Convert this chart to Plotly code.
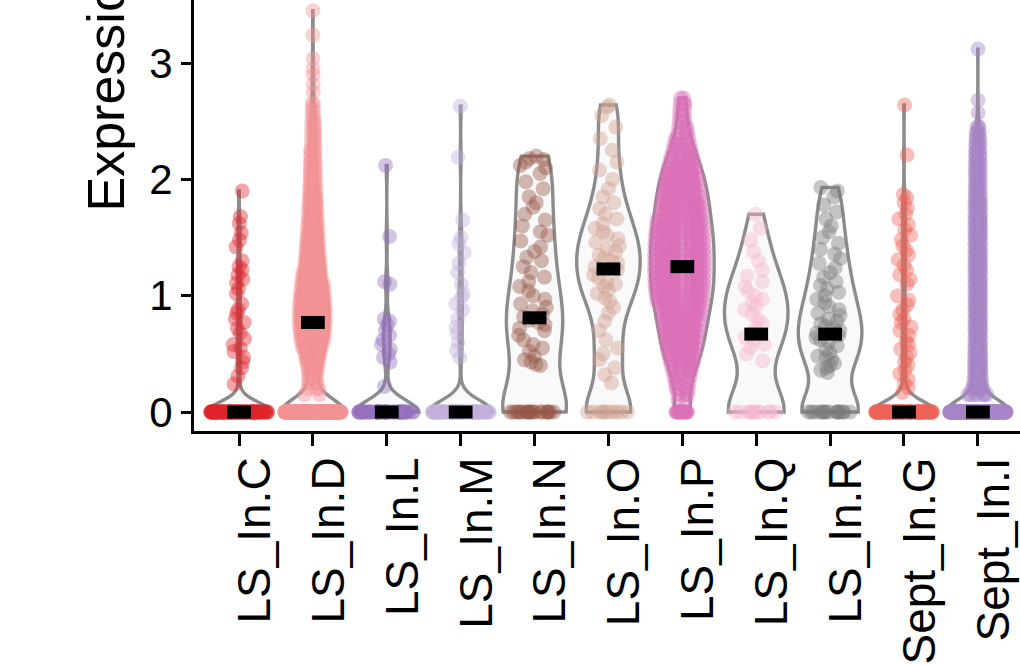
import numpy as np
import plotly.graph_objects as go

# ---------------- data ----------------
categories = ["LS_In.C", "LS_In.D", "LS_In.L", "LS_In.M", "LS_In.N", "LS_In.O",
              "LS_In.P", "LS_In.Q", "LS_In.R", "Sept_In.G", "Sept_In.I"]

# sparse groups: number of zero cells + individual non-zero cell values
C_zeros = 100
C_vals = [0.24, 0.31, 0.38, 0.43, 0.47, 0.52, 0.55, 0.58, 0.63, 0.68, 0.72, 0.77, 0.80,
          0.85, 0.88, 0.93, 1.02, 1.06, 1.11, 1.14, 1.18, 1.22, 1.25, 1.30, 1.42, 1.48,
          1.54, 1.62, 1.68, 1.90]
L_zeros = 60
L_vals = [0.22, 0.43, 0.47, 0.50, 0.54, 0.58, 0.62, 0.66, 0.70, 0.75, 0.78, 0.80, 1.10,
          1.12, 1.51, 2.12]
M_zeros = 80
M_vals = [0.47, 0.53, 0.60, 0.68, 0.73, 0.80, 0.88, 0.93, 0.99, 1.02, 1.10, 1.20, 1.28,
          1.37, 1.45, 1.50, 1.65, 2.19, 2.63]
N_zeros = 20
N_vals = [0.40, 0.41, 0.43, 0.45, 0.48, 0.52, 0.55, 0.58, 0.62, 0.66, 0.70, 0.72, 0.75,
          0.77, 0.79, 0.82, 0.84, 0.87, 0.90, 0.93, 0.97, 1.00, 1.04, 1.08, 1.12, 1.16,
          1.20, 1.25, 1.30, 1.33, 1.38, 1.42, 1.47, 1.52, 1.55, 1.60, 1.65, 1.70, 1.76,
          1.80, 1.85, 1.92, 1.98, 2.05, 2.10, 2.12, 2.15, 2.17, 2.18, 2.20]
O_zeros = 10
O_vals = [0.25, 0.32, 0.38, 0.45, 0.50, 0.55, 0.62, 0.70, 0.78, 0.85, 0.90, 0.95, 0.98,
          1.02, 1.05, 1.08, 1.10, 1.12, 1.15, 1.18, 1.22, 1.25, 1.28, 1.30, 1.32, 1.35,
          1.38, 1.40, 1.43, 1.46, 1.49, 1.52, 1.55, 1.58, 1.62, 1.66, 1.70, 1.75, 1.80,
          1.85, 1.92, 2.00, 2.08, 2.15, 2.25, 2.35, 2.45, 2.55, 2.62, 2.64]
Q_zeros = 12
Q_vals = [0.44, 0.50, 0.55, 0.58, 0.61, 0.64, 0.68, 0.72, 0.76, 0.80, 0.84, 0.88, 0.91,
          0.94, 0.97, 1.00, 1.04, 1.08, 1.12, 1.17, 1.22, 1.30, 1.38, 1.48, 1.58, 1.70]
R_zeros = 16
R_vals = [0.34, 0.36, 0.38, 0.40, 0.42, 0.45, 0.47, 0.48, 0.51, 0.54, 0.57, 0.60, 0.62,
          0.64, 0.66, 0.68, 0.70, 0.72, 0.74, 0.76, 0.78, 0.80, 0.83, 0.85, 0.88, 0.91,
          0.94, 0.97, 1.00, 1.03, 1.06, 1.09, 1.12, 1.16, 1.20, 1.24, 1.28, 1.32, 1.36,
          1.40, 1.45, 1.50, 1.55, 1.60, 1.66, 1.72, 1.78, 1.85, 1.90, 1.93]
G_zeros = 120
G_vals = [0.17, 0.21, 0.25, 0.28, 0.33, 0.36, 0.40, 0.43, 0.47, 0.51, 0.54, 0.58, 0.61,
          0.66, 0.70, 0.73, 0.77, 0.80, 0.84, 0.88, 0.92, 0.96, 1.00, 1.10, 1.14, 1.18,
          1.22, 1.26, 1.31, 1.35, 1.39, 1.43, 1.48, 1.52, 1.57, 1.61, 1.66, 1.70, 1.75,
          1.80, 1.84, 1.87, 2.21, 2.64]

# dense groups: number of zero cells + expression level / number of cells
D_zeros = 210
D_levels = [0.15, 0.20, 0.25, 0.30, 0.35, 0.40, 0.45, 0.50, 0.55, 0.60,
            0.65, 0.70, 0.75, 0.80, 0.85, 0.90,
            0.95, 1.00, 1.05, 1.10, 1.15, 1.20, 1.25, 1.30, 1.35, 1.40,
            1.45, 1.50, 1.55, 1.60, 1.65, 1.70, 1.75, 1.80, 1.85, 1.90,
            1.95, 2.00, 2.05, 2.10, 2.15, 2.20, 2.25, 2.30, 2.35, 2.40,
            2.45, 2.50, 2.55, 2.60, 2.65,
            2.75, 2.82, 2.90, 2.95, 3.04, 3.24, 3.45]
D_counts = [2, 3, 4, 5, 7, 9, 11, 13, 15, 17,
            18, 19, 20, 20, 20, 19,
            19, 18, 17, 16, 15, 14, 13, 12, 12, 11,
            10, 10, 9, 8, 8, 7, 7, 6, 6, 5,
            5, 5, 4, 4, 4, 4, 4, 3, 3, 3,
            3, 3, 2, 2, 2,
            1, 1, 1, 1, 1, 1, 1]
P_zeros = 15
P_levels = [0.10, 0.15, 0.20, 0.25, 0.30, 0.35, 0.40, 0.45, 0.50, 0.55,
            0.60, 0.65, 0.70, 0.75, 0.80, 0.85, 0.90, 0.95, 1.00, 1.05,
            1.10, 1.15, 1.20, 1.25, 1.30, 1.35, 1.40, 1.45, 1.50, 1.55,
            1.60, 1.65, 1.70, 1.75, 1.80, 1.85, 1.90, 1.95, 2.00, 2.05,
            2.10, 2.15, 2.20, 2.25, 2.30, 2.35, 2.40, 2.45, 2.50, 2.55,
            2.60, 2.65, 2.70]
P_counts = [2, 3, 4, 4, 5, 6, 7, 8, 9, 10,
            10, 11, 11, 12, 12, 13, 13, 14, 14, 15,
            15, 15, 15, 15, 15, 15, 15, 15, 15, 14,
            14, 14, 13, 13, 13, 12, 12, 11, 11, 10,
            9, 8, 7, 6, 5, 4, 3, 3, 2, 2,
            2, 3, 2]
I_zeros = 230
I_levels = [0.15, 0.20, 0.25, 0.30, 0.35, 0.40, 0.45, 0.50, 0.55,
            0.60, 0.65, 0.70, 0.75, 0.80, 0.85, 0.90, 0.95, 1.00, 1.05,
            1.10, 1.15, 1.20, 1.25, 1.30, 1.35, 1.40, 1.45, 1.50, 1.55,
            1.60, 1.65, 1.70, 1.75, 1.80, 1.85, 1.90, 1.95, 2.00, 2.05,
            2.10, 2.15, 2.20, 2.25, 2.30, 2.35, 2.40, 2.45,
            2.57, 2.68, 3.12]
I_counts = [7, 7, 7, 7, 7, 7, 7, 6, 6,
            6, 6, 6, 6, 6, 6, 6, 6, 6, 6,
            6, 6, 6, 6, 6, 6, 6, 6, 6, 6,
            6, 6, 6, 6, 6, 5, 5, 5, 5, 5,
            5, 5, 5, 5, 4, 4, 4, 3,
            1, 1, 1]

medians = [0, 0.77, 0, 0, 0.81, 1.23, 1.25, 0.67, 0.67, 0, 0]
y_ticks = [0, 1, 2, 3]
y_title = "Expression"

# ---------------- styles ----------------
colors = {"LS_In.C": "#E0262A", "LS_In.D": "#F49496", "LS_In.L": "#9670BC",
          "LS_In.M": "#C3B1DC", "LS_In.N": "#975848", "LS_In.O": "#CFA090",
          "LS_In.P": "#DC70B8", "LS_In.Q": "#F5B5CF", "LS_In.R": "#7A7A7A",
          "Sept_In.G": "#EE6459", "Sept_In.I": "#A886C6"}
bandwidths = {"LS_In.C": 0.085, "LS_In.D": 0.11, "LS_In.L": 0.1, "LS_In.M": 0.1,
              "LS_In.N": 0.25, "LS_In.O": 0.18, "LS_In.P": 0.1, "LS_In.Q": 0.22,
              "LS_In.R": 0.18, "Sept_In.G": 0.09, "Sept_In.I": 0.1}
jitters = {"LS_In.C": 0.9, "LS_In.D": 0.9, "LS_In.L": 0.9, "LS_In.M": 0.9,
           "LS_In.N": 0.78, "LS_In.O": 0.78, "LS_In.P": 0.9, "LS_In.Q": 0.8,
           "LS_In.R": 0.8, "Sept_In.G": 0.9, "Sept_In.I": 0.9}
dense = {"LS_In.D", "LS_In.P", "Sept_In.I"}
VW = 0.86
OUTLINE = "#8c8c8c"
FILL = "#f9f9f9"
PT_SIZE = 15
PT_ALPHA = 0.42
FONT = "Liberation Sans, Arial, Helvetica, sans-serif"

groups = {
    "LS_In.C": (C_zeros, C_vals, [1] * len(C_vals)),
    "LS_In.D": (D_zeros, D_levels, D_counts),
    "LS_In.L": (L_zeros, L_vals, [1] * len(L_vals)),
    "LS_In.M": (M_zeros, M_vals, [1] * len(M_vals)),
    "LS_In.N": (N_zeros, N_vals, [1] * len(N_vals)),
    "LS_In.O": (O_zeros, O_vals, [1] * len(O_vals)),
    "LS_In.P": (P_zeros, P_levels, P_counts),
    "LS_In.Q": (Q_zeros, Q_vals, [1] * len(Q_vals)),
    "LS_In.R": (R_zeros, R_vals, [1] * len(R_vals)),
    "Sept_In.G": (G_zeros, G_vals, [1] * len(G_vals)),
    "Sept_In.I": (I_zeros, I_levels, I_counts),
}


def expand(z, lv, ct):
    return np.concatenate([np.zeros(z), np.repeat(np.asarray(lv, float), ct)])


def kde(y, data, h):
    y = np.atleast_1d(np.asarray(y, float))
    return np.exp(-0.5 * ((y[:, None] - data[None, :]) / h) ** 2).sum(axis=1)


fig = go.Figure()

# violins (outline + light fill)
for cat in categories:
    vals = expand(*groups[cat])
    fig.add_trace(go.Violin(
        x=[cat] * len(vals), y=vals, width=VW, bandwidth=bandwidths[cat],
        spanmode="hard", scalemode="width", points=False, side="both",
        line=dict(color=OUTLINE, width=3.4), fillcolor=FILL,
        box_visible=False, meanline_visible=False,
        hoverinfo="skip", showlegend=False))


def add_points(cat, yv, jit):
    fig.add_trace(go.Box(
        x=[cat] * len(yv), y=yv, width=VW, boxpoints="all", jitter=float(jit),
        pointpos=0, fillcolor="rgba(0,0,0,0)", whiskerwidth=0,
        line=dict(width=0, color="rgba(0,0,0,0)"),
        marker=dict(color=colors[cat], size=PT_SIZE, opacity=PT_ALPHA,
                    line=dict(width=0)),
        hoverinfo="skip", showlegend=False))


# jittered cells (spread follows the density, like a sina plot)
for cat in categories:
    z, lv, ct = groups[cat]
    vals = expand(z, lv, ct)
    if cat in dense:
        h = bandwidths[cat]
        grid = np.linspace(vals.min(), vals.max(), 600)
        kmax = kde(grid, vals, h).max()
        rows = [(0.0, z)] + list(zip(lv, ct))
        for level, n in rows:
            jit = min(1.0, jitters[cat] * kde(level, vals, h)[0] / kmax)
            add_points(cat, [level] * n, jit)
    else:
        add_points(cat, vals, jitters[cat])

# medians
fig.add_trace(go.Scatter(
    x=categories, y=medians, mode="markers",
    marker=dict(symbol="line-ew", size=17, color="black",
                line=dict(width=13, color="black")),
    hoverinfo="skip", showlegend=False, cliponaxis=False))

PLOT_H = 665 - 234
fig.update_layout(
    width=1020, height=665, autosize=False,
    margin=dict(l=194, r=0, t=0, b=234, pad=0),
    plot_bgcolor="white", paper_bgcolor="white",
    violinmode="overlay", boxmode="overlay", showlegend=False,
    font=dict(family=FONT, color="black"),
    annotations=[dict(text=y_title, textangle=-90, xref="paper", yref="paper",
                      x=0, y=(PLOT_H - 83.5) / PLOT_H, xshift=-88,
                      xanchor="center", yanchor="middle", showarrow=False,
                      font=dict(size=52, family=FONT, color="black"))],
)
fig.update_xaxes(
    type="category", categoryorder="array", categoryarray=categories,
    range=[-0.609, 10.57], showline=True, linewidth=3, linecolor="black",
    ticks="outside", ticklen=12, tickwidth=3, tickcolor="black",
    tickangle=-90, tickfont=dict(size=46, family=FONT, color="black"),
    ticklabelshift=16, ticklabelstandoff=-7, showgrid=False, zeroline=False)
fig.update_yaxes(
    range=[-0.163, 3.542], tickvals=y_ticks, ticktext=[str(t) for t in y_ticks],
    showline=True, linewidth=3, linecolor="black",
    ticks="outside", ticklen=10, tickwidth=3, tickcolor="black",
    tickfont=dict(size=42, family=FONT, color="black"),
    showgrid=False, zeroline=False)

fig.write_html("out.html", config={"displayModeBar": False})
